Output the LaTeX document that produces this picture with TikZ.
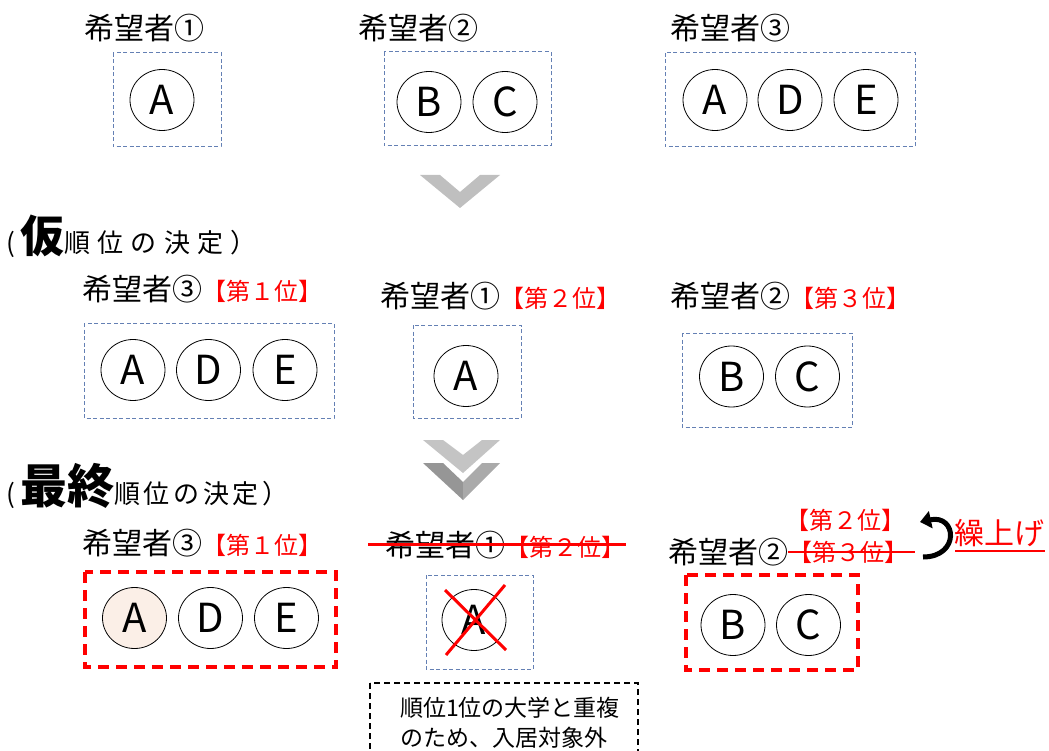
\documentclass[tikz,border=0pt]{standalone}
\usepackage{fontspec}
\setmainfont{Noto Sans CJK JP}
\usetikzlibrary{shapes.geometric,arrows.meta}
\definecolor{boxblue}{RGB}{100,128,180}
\definecolor{peach}{RGB}{251,239,231}
\definecolor{chevA}{RGB}{191,191,191}
\definecolor{chevB}{RGB}{196,196,196}
\definecolor{chevL}{RGB}{150,150,150}
\definecolor{chevR}{RGB}{170,170,170}
\newcommand\rnk[1]{{\color{red}\fontsize{24}{26}\selectfont #1}}
\newcommand\ttlsmall[2]{{\fontsize{26}{28}\selectfont\addfontfeature{LetterSpace=#1}#2}}
\newcommand\ttlbig[2]{{\fontsize{#1}{#1}\selectfont\bfseries #2}}
\begin{document}
\begin{tikzpicture}[x=1pt,y=-1pt,
  lbl/.style={anchor=base west, inner sep=0, font=\fontsize{30}{32}\selectfont},
  circ/.style={ellipse, draw, line width=0.8pt, minimum width=64pt, minimum height=61pt, inner sep=0pt, font=\fontsize{40}{40}\selectfont},
  bbox/.style={draw=boxblue, line width=1pt, dash pattern=on 4pt off 2.5pt},
  rbox/.style={draw=red, line width=3.2pt, dash pattern=on 11pt off 7pt},
  nbox/.style={draw=black, line width=1.4pt, dash pattern=on 6pt off 4pt},
  redline/.style={draw=red, line width=3pt},
  thinred/.style={draw=red, line width=1.4pt}]
\useasboundingbox (0,0) rectangle (1049,751);

% ---------- row 1 ----------
\node[lbl] (n1) at (84,40) {希望者①};
\node[lbl] (n2) at (358,40) {希望者②};
\node[lbl] (n3) at (670,40) {希望者③};
\draw[bbox] (113,53) rectangle (221,147);
\draw[bbox] (384,52) rectangle (551,146);
\draw[bbox] (665,53) rectangle (915,147);
\node[circ] (a1) at (162,100) {A};
\node[circ] (b1) at (429,102) {B};
\node[circ] (c1) at (505,102) {C};
\node[circ] (a1b) at (715,100) {A};
\node[circ] (d1) at (790,100) {D};
\node[circ] (e1) at (866,100) {E};

% chevron 1
\fill[chevA] (420,175) -- (440,175) -- (460,192) -- (480,175) -- (500,175) -- (460,208) -- cycle;

% ---------- row 2 ----------
\node[lbl, font=\fontsize{26}{28}\selectfont] (p1) at (6,253) {(};
\node[lbl] (t1) at (20,253) {\ttlbig{44}{仮}\ttlsmall{28}{順位の決定）}};
\node[lbl] (m1) at (82,300) {希望者③\rnk{【第１位】}};
\node[lbl] (m2) at (380,307) {希望者①\rnk{【第２位】}};
\node[lbl] (m3) at (670,307) {希望者②\rnk{【第３位】}};
\draw[bbox] (84,323) rectangle (334,418);
\draw[bbox] (413,325) rectangle (521,418);
\draw[bbox] (682,333) rectangle (852,427);
\node[circ] (a2) at (133,370) {A};
\node[circ] (d2) at (208.5,370) {D};
\node[circ] (e2) at (285,370) {E};
\node[circ] (a2b) at (466,376) {A};
\node[circ] (b2) at (731.5,376.5) {B};
\node[circ] (c2) at (807.5,376.5) {C};

% chevron 2 (double)
\fill[chevB] (423,440) -- (443,440) -- (463,455) -- (482,440) -- (500,440) -- (463,473) -- cycle;
\fill[chevL] (423,463) -- (443,463) -- (463,482) -- (463,500) -- cycle;
\fill[chevR] (463,482) -- (482,463) -- (500,463) -- (463,500) -- cycle;

% ---------- row 3 ----------
\node[lbl, font=\fontsize{26}{28}\selectfont] (p2) at (6,503) {(};
\node[lbl] (t2) at (20,503) {\ttlbig{47}{最終}\ttlsmall{14}{順位の決定）}};
\node[lbl] (f1) at (82,554) {希望者③\rnk{【第１位】}};
\node[lbl] (f2) at (385,556) {希望者①\rnk{【第２位】}};
\node[lbl] (f3) at (668,563) {希望者②};
\node[lbl, font=\fontsize{24}{26}\selectfont, text=red] (r2) at (785,529) {【第２位】};
\node[lbl, font=\fontsize{24}{26}\selectfont, text=red] (r3) at (788,561) {【第３位】};
\node[lbl, font=\fontsize{30}{32}\selectfont, text=red] (up) at (954,544) {繰上げ};

\coordinate (s2a) at (368,544);
\coordinate (s2b) at (626,544);
\draw[redline] (s2a) -- (s2b);
\coordinate (s3a) at (788,552);
\coordinate (s3b) at (915,552);
\draw[thinred] (s3a) -- (s3b);
\coordinate (u1) at (955,551);
\coordinate (u2) at (1045,551);
\draw[thinred] (u1) -- (u2);

\coordinate (arS) at (923,557);
\coordinate (arE) at (920,522);
\draw[line width=5pt, -{Triangle[length=11pt,width=17pt]}] (arS) .. controls (960,557) and (957,514) .. (arE);

\draw[rbox] (85,572) rectangle (336,667);
\draw[bbox] (426,575) rectangle (533,669);
\draw[rbox] (686,575) rectangle (858,670);
\node[circ, fill=peach] (a3) at (134.5,618) {A};
\node[circ] (d3) at (210.5,618) {D};
\node[circ] (e3) at (286.5,618) {E};
\node[circ] (a3b) at (474,620) {A};
\node[circ] (b3) at (733,625) {B};
\node[circ] (c3) at (808.5,625) {C};

\coordinate (x1) at (445,590);
\coordinate (x2) at (506,650);
\coordinate (x3) at (505,585);
\coordinate (x4) at (446,655);
\draw[redline] (x1) -- (x2);
\draw[redline] (x3) -- (x4);

% note box
\draw[nbox] (370,683) rectangle (638,775);
\node[lbl, font=\fontsize{23}{25}\selectfont] (nt1) at (400,716) {順位1位の大学と重複};
\node[lbl, font=\fontsize{23}{25}\selectfont] (nt2) at (400,746) {のため、入居対象外};
\end{tikzpicture}
\end{document}
